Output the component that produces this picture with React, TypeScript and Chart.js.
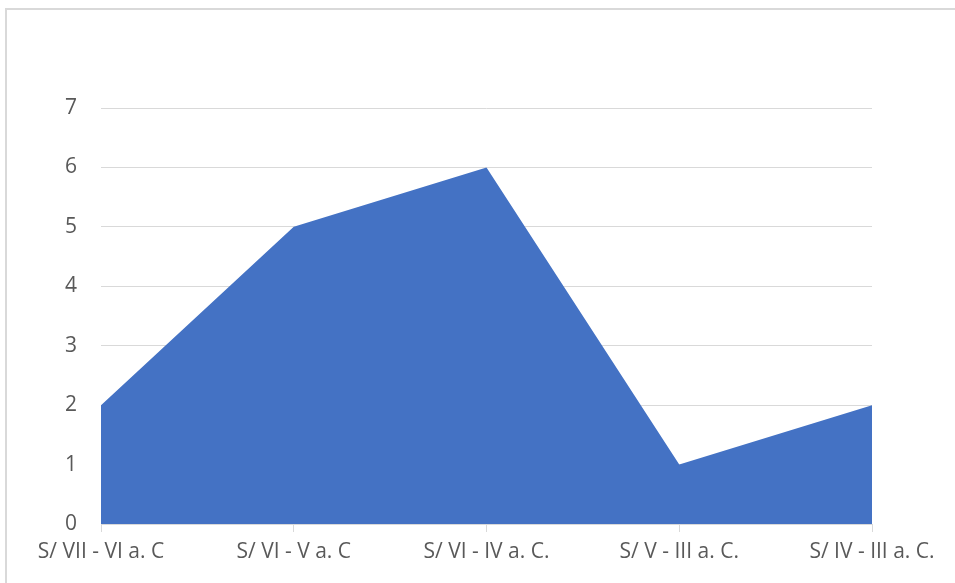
import React, { useEffect, useRef } from "react";
import { Chart, registerables } from "chart.js";

Chart.register(...registerables);

const categories = ["S/ VII - VI a. C", "S/ VI - V a. C", "S/ VI - IV a. C.", "S/ V - III a. C.", "S/ IV - III a. C."];
const values = [2, 5, 6, 1, 2];
const yMin = 0;
const yMax = 7;
const yStep = 1;

const FONT = "'Open Sans', 'Noto Sans', sans-serif";

export default function App() {
  const ref = useRef<HTMLCanvasElement | null>(null);
  useEffect(() => {
    if (!ref.current) return;
    const chart = new Chart(ref.current, {
      type: "line",
      data: {
        labels: categories,
        datasets: [
          {
            data: values,
            fill: "origin",
            backgroundColor: "#4472C4",
            borderColor: "#4472C4",
            borderWidth: 0,
            pointRadius: 0,
            tension: 0,
          },
        ],
      },
      options: {
        animation: false,
        responsive: false,
        maintainAspectRatio: false,
        layout: { padding: { left: 0, top: 108, right: 83, bottom: 0 } },
        plugins: { legend: { display: false }, tooltip: { enabled: false } },
        scales: {
          x: {
            offset: false,
            afterFit: (s: any) => {
              s.height = 59;
            },
            grid: {
              drawOnChartArea: false,
              drawTicks: true,
              tickLength: 8,
              color: "#d9d9d9",
              lineWidth: 1,
            },
            border: { display: true, color: "#d9d9d9", width: 1 },
            ticks: {
              color: "#595959",
              font: { family: FONT, size: 21 },
              padding: 7,
              maxRotation: 0,
              autoSkip: false,
            },
          },
          y: {
            min: yMin,
            max: yMax,
            afterFit: (s: any) => {
              s.width = 101;
            },
            grid: { color: "#d9d9d9", lineWidth: 1, drawTicks: false },
            border: { display: false },
            ticks: {
              stepSize: yStep,
              color: "#595959",
              font: { family: FONT, size: 21 },
              padding: 24,
            },
          },
        },
      },
    });
    return () => chart.destroy();
  }, []);

  return (
    <div style={{ position: "fixed", left: 0, top: 0, width: 955, height: 583, overflow: "hidden", background: "#fff" }}>
      <div
        style={{
          position: "absolute",
          left: 5,
          top: 8,
          width: 2000,
          height: 2000,
          border: "2px solid #d9d9d9",
          boxSizing: "border-box",
        }}
      />
      <canvas ref={ref} width={955} height={583} style={{ position: "absolute", left: 0, top: 0, width: 955, height: 583 }} />
    </div>
  );
}
